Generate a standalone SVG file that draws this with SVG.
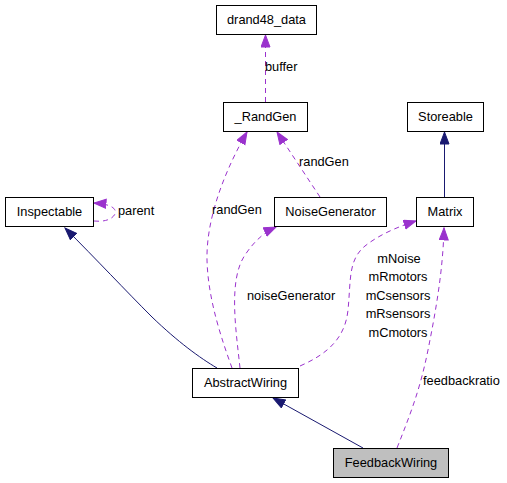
<svg xmlns="http://www.w3.org/2000/svg" width="507" height="483" viewBox="0 0 507 483">
<style>
  .box rect { fill: #ffffff; stroke: #000000; stroke-width: 1; }
  .box.cur rect { fill: #bfbfbf; }
  .box text, .lbl { font-family: "Liberation Sans", Arial, sans-serif; font-size: 12.8px; fill: #000000; }
  .box text { text-anchor: middle; }
  .use { fill: none; stroke: #9a32cd; stroke-width: 1; stroke-dasharray: 5,4; }
  .inh { fill: none; stroke: #191970; stroke-width: 1; }
</style>
<defs>
  <marker id="ap" markerUnits="userSpaceOnUse" markerWidth="14" markerHeight="11" refX="12.5" refY="5" orient="auto">
    <path d="M0.5,0.5 L12.5,5 L0.5,9.5 z" fill="#9a32cd" stroke="#9a32cd" stroke-width="1"/>
  </marker>
  <marker id="an" markerUnits="userSpaceOnUse" markerWidth="14" markerHeight="11" refX="12.5" refY="5" orient="auto">
    <path d="M0.5,0.5 L12.5,5 L0.5,9.5 z" fill="#191970" stroke="#191970" stroke-width="1"/>
  </marker>
</defs>
<g id="edges">
  <path class="use" d="M265.5,102 L265.5,35" marker-end="url(#ap)"/>
  <text class="lbl" x="265" y="71">buffer</text>
  <path class="use" d="M320,197 L277,132" marker-end="url(#ap)"/>
  <text class="lbl" x="299" y="166">randGen</text>
  <path class="use" d="M232,368 C222,340 208,300 207,260 C206,215 228,165 247,132" marker-end="url(#ap)"/>
  <text class="lbl" x="212" y="214">randGen</text>
  <path class="use" d="M240,368 C236,330 228,280 245,255 C255,240 265,232 276,227" marker-end="url(#ap)"/>
  <text class="lbl" x="247" y="300">noiseGenerator</text>
  <path class="use" d="M300,366 C325,355 345,340 348,310 C351,280 348,260 365,246 C380,234 400,226 416,221" marker-end="url(#ap)"/>
  <text class="lbl" x="399" y="263" text-anchor="middle">mNoise</text>
  <text class="lbl" x="398" y="281" text-anchor="middle">mRmotors</text>
  <text class="lbl" x="398" y="300" text-anchor="middle">mCsensors</text>
  <text class="lbl" x="398" y="318" text-anchor="middle">mRsensors</text>
  <text class="lbl" x="398" y="337" text-anchor="middle">mCmotors</text>
  <path class="use" d="M397,448 C410,415 420,390 428,350 C436,310 443,270 444,228" marker-end="url(#ap)"/>
  <text class="lbl" x="423" y="385">feedbackratio</text>
  <path class="use" d="M94,221 C103,222 112,220 115,214 C117,208 110,204 94,203" marker-end="url(#ap)"/>
  <text class="lbl" x="118" y="215">parent</text>
  <path class="inh" d="M444.5,197 L444.5,132" marker-end="url(#an)"/>
  <path class="inh" d="M217,368 C200,358 178,342 152,317 C125,290 97,260 65,228" marker-end="url(#an)"/>
  <path class="inh" d="M363,448 L273,398" marker-end="url(#an)"/>
</g>
<g id="drand48_data" class="box"><rect x="216.5" y="5.5" width="100" height="29"/><text x="266.5" y="24">drand48_data</text></g>
<g id="_RandGen" class="box"><rect x="223.5" y="102.5" width="84" height="29"/><text x="265.5" y="121">_RandGen</text></g>
<g id="Storeable" class="box"><rect x="407.5" y="102.5" width="76" height="29"/><text x="445.5" y="121">Storeable</text></g>
<g id="NoiseGenerator" class="box"><rect x="274.5" y="197.5" width="112" height="29"/><text x="330.5" y="216">NoiseGenerator</text></g>
<g id="Matrix" class="box"><rect x="416.5" y="197.5" width="57" height="29"/><text x="445" y="216">Matrix</text></g>
<g id="Inspectable" class="box"><rect x="5.5" y="197.5" width="88" height="29"/><text x="49.5" y="216">Inspectable</text></g>
<g id="AbstractWiring" class="box"><rect x="192.5" y="368.5" width="106" height="29"/><text x="245.5" y="387">AbstractWiring</text></g>
<g id="FeedbackWiring" class="box cur"><rect x="333.5" y="448.5" width="115" height="29"/><text x="391" y="467">FeedbackWiring</text></g>
</svg>
